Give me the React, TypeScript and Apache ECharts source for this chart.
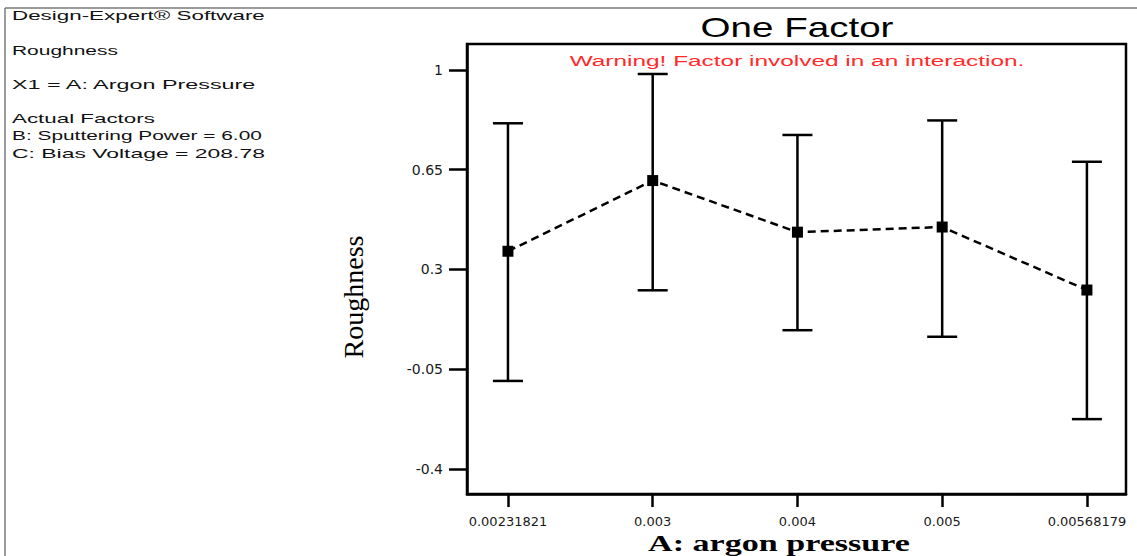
import React, { useEffect, useRef } from "react";
import * as echarts from "echarts";

// ---- data ----
const categories = ["0.00231821", "0.003", "0.004", "0.005", "0.00568179"];
const means = [0.364, 0.612, 0.431, 0.449, 0.228];
const upper = [0.813, 0.986, 0.772, 0.823, 0.678];
const lower = [-0.091, 0.227, 0.087, 0.064, -0.225];
const yTicks = [-0.4, -0.05, 0.3, 0.65, 1];
const yTickLabels = ["-0.4", "-0.05", "0.3", "0.65", "1"];
const infoLines = [
  "Design-Expert® Software",
  "Roughness",
  "X1 = A: Argon Pressure",
  "Actual Factors",
  "B: Sputtering Power = 6.00",
  "C: Bias Voltage = 208.78",
];
const titleText = "One Factor";
const warningText = "Warning! Factor involved in an interaction.";
const xName = "A: argon pressure";
const yName = "Roughness";

// ---- layout ----
const infoY = [15, 51, 85, 118, 136, 153];
const infoW = [253, 106, 246, 143, 250, 253];

function measure(text: string, font: string): number {
  const ctx = document.createElement("canvas").getContext("2d");
  if (!ctx) return 1;
  ctx.font = font;
  return ctx.measureText(text).width || 1;
}

function stretchedText(
  text: string,
  x: number,
  y: number,
  size: number,
  family: string,
  weight: string,
  targetW: number,
  color: string,
  align: string
) {
  const w = measure(text, `${weight} ${size}px "${family}"`);
  return {
    type: "text",
    x,
    y,
    scaleX: targetW / w,
    silent: true,
    style: {
      text,
      x: 0,
      y: 0,
      fontSize: size,
      fontFamily: family,
      fontWeight: weight,
      fill: color,
      align,
      verticalAlign: "middle",
    },
  };
}

export default function App() {
  const ref = useRef<HTMLDivElement>(null);
  useEffect(() => {
    document.body.style.margin = "0";
    if (!ref.current) return;
    const chart = echarts.init(ref.current, undefined, { renderer: "svg" });
    const idx = categories.map((_, i) => i);

    const graphics: any[] = [
      {
        type: "line",
        silent: true,
        shape: { x1: 5, y1: 8, x2: 1137, y2: 8 },
        style: { stroke: "#7a7a7a", lineWidth: 1.5 },
      },
      {
        type: "line",
        silent: true,
        shape: { x1: 5, y1: 8, x2: 5, y2: 556 },
        style: { stroke: "#7a7a7a", lineWidth: 1.5 },
      },
    ];
    infoLines.forEach((t, i) => {
      graphics.push(
        stretchedText(t, 12, infoY[i], 13, "Liberation Sans", "normal", infoW[i], "#111", "left")
      );
    });
    graphics.push(
      stretchedText(titleText, 797, 27, 28, "Liberation Sans", "normal", 193, "#000", "center")
    );
    graphics.push(
      stretchedText(warningText, 797, 61, 15, "Liberation Sans", "normal", 455, "#ff2a2a", "center")
    );
    graphics.push(
      stretchedText(xName, 779, 543, 24, "Liberation Serif", "bold", 262, "#000", "center")
    );
    graphics.push({
      type: "text",
      x: 353,
      y: 297,
      rotation: Math.PI / 2,
      silent: true,
      style: {
        text: yName,
        x: 0,
        y: 0,
        fontSize: 28,
        fontFamily: "Liberation Serif",
        fill: "#000",
        align: "center",
        verticalAlign: "middle",
      },
    });

    chart.setOption({
      animation: false,
      backgroundColor: "#fff",
      grid: {
        left: 467,
        top: 44,
        width: 659,
        height: 450,
        show: true,
        borderColor: "#000",
        borderWidth: 2.5,
        backgroundColor: "transparent",
        containLabel: false,
        outerBoundsMode: "none",
      },
      xAxis: {
        type: "value",
        min: -0.283,
        max: 4.27,
        axisLine: { show: true, onZero: false, lineStyle: { color: "#000", width: 2.5 } },
        axisTick: {
          show: true,
          customValues: idx,
          length: 13,
          inside: false,
          lineStyle: { color: "#000", width: 2.5 },
        },
        axisLabel: {
          show: true,
          customValues: idx,
          margin: 21,
          fontSize: 13,
          fontFamily: "DejaVu Sans",
          color: "#1a1a1a",
          formatter: (v: number) => categories[Math.round(v)] ?? "",
        },
        splitLine: { show: false },
      },
      yAxis: {
        type: "value",
        min: -0.4877,
        max: 1.0912,
        axisLine: { show: true, onZero: false, lineStyle: { color: "#000", width: 2.5 } },
        axisTick: {
          show: true,
          customValues: yTicks,
          length: 18,
          inside: false,
          lineStyle: { color: "#000", width: 2.5 },
        },
        axisLabel: {
          show: true,
          customValues: yTicks,
          margin: 24,
          fontSize: 14,
          fontFamily: "DejaVu Sans",
          color: "#1a1a1a",
          formatter: (v: number) => {
            const k = yTicks.findIndex((t) => Math.abs(t - v) < 1e-6);
            return k >= 0 ? yTickLabels[k] : "";
          },
        },
        splitLine: { show: false },
      },
      graphic: graphics,
      series: [
        {
          type: "custom",
          z: 2,
          silent: true,
          encode: { x: 0, y: [1, 2] },
          data: idx.map((i) => [i, lower[i], upper[i]]),
          renderItem: (params: any, api: any) => {
            const x = api.value(0);
            const pLo = api.coord([x, api.value(1)]);
            const pHi = api.coord([x, api.value(2)]);
            const hw = 15;
            const st = { stroke: "#000", lineWidth: 2.5 };
            return {
              type: "group",
              children: [
                { type: "line", shape: { x1: pHi[0], y1: pHi[1], x2: pLo[0], y2: pLo[1] }, style: st },
                { type: "line", shape: { x1: pHi[0] - hw, y1: pHi[1], x2: pHi[0] + hw, y2: pHi[1] }, style: st },
                { type: "line", shape: { x1: pLo[0] - hw, y1: pLo[1], x2: pLo[0] + hw, y2: pLo[1] }, style: st },
              ],
            };
          },
        },
        {
          type: "line",
          z: 3,
          silent: true,
          data: idx.map((i) => [i, means[i]]),
          symbol: "rect",
          symbolSize: 11,
          itemStyle: { color: "#000" },
          lineStyle: { color: "#000", width: 2.5, type: [8, 5] },
        },
      ],
    });
    return () => chart.dispose();
  }, []);
  return <div ref={ref} style={{ width: 1137, height: 556 }} />;
}
